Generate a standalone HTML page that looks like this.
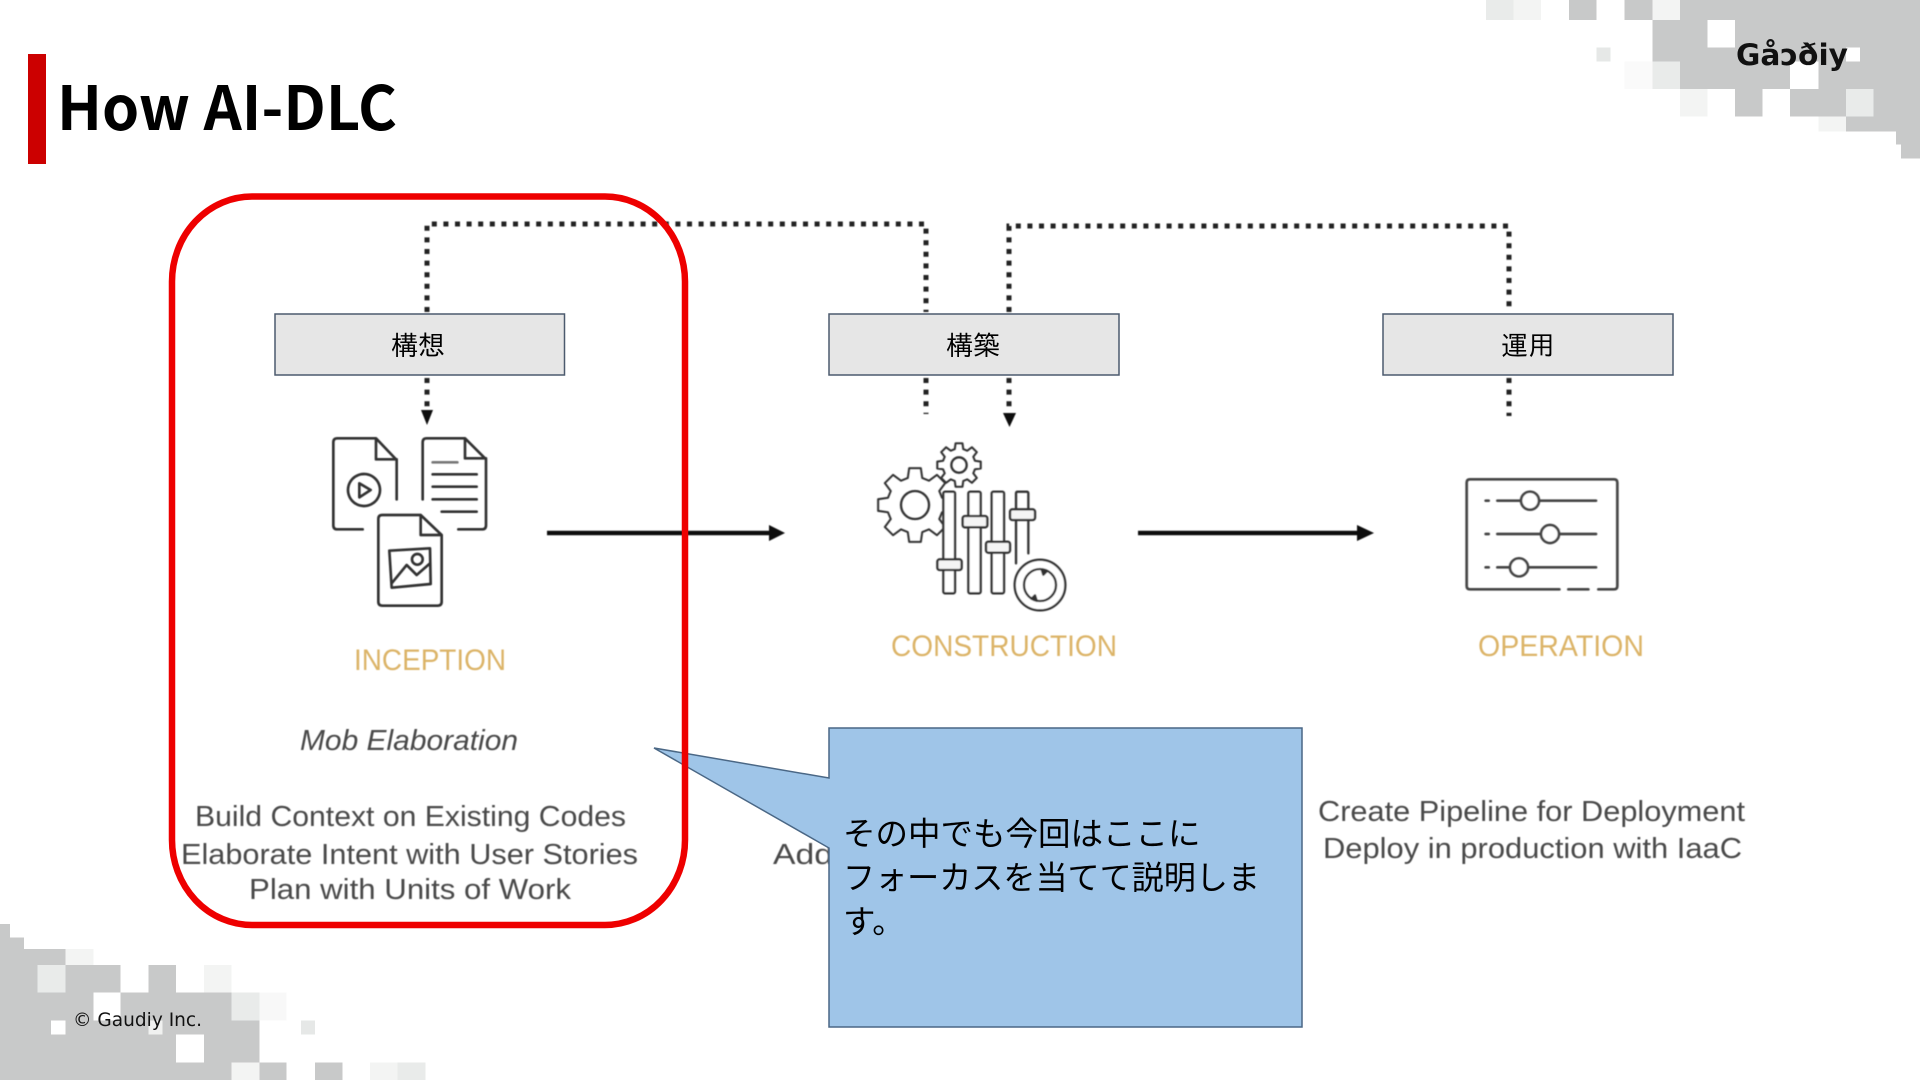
<!DOCTYPE html>
<html lang="ja"><head><meta charset="utf-8"><title>How AI-DLC</title>
<style>html,body{margin:0;padding:0;background:#fff;width:1920px;height:1080px;overflow:hidden}svg{display:block}
.b{font-family:"Liberation Sans","Noto Sans CJK JP",sans-serif;font-size:29px;fill:#4a4a4a}
.o{font-family:"Liberation Sans",sans-serif;font-size:30px;fill:#dcb468}
.j{font-family:"IPAGothic","Noto Sans CJK JP",sans-serif;fill:#000}
.k{font-family:"Noto Sans CJK JP",sans-serif;fill:#000}
.i{fill:none;stroke:#333;stroke-width:8;stroke-linecap:round;stroke-linejoin:round}
.d{fill:none;stroke:#222;stroke-width:5;stroke-dasharray:5 6.6}
</style></head><body>
<svg xmlns="http://www.w3.org/2000/svg" width="1920" height="1080" viewBox="0 0 1920 1080">
<defs><filter id="s" x="-5%" y="-5%" width="110%" height="110%"><feGaussianBlur stdDeviation="0.55"/></filter></defs>
<rect width="1920" height="1080" fill="#fff"/>

<!-- top right pixels -->
<g transform="translate(1480,0) scale(.33333)" shape-rendering="crispEdges" fill="#c8c9c9">
<rect x="18" y="0" width="82" height="60" fill="#e9ebea"/><rect x="100" y="0" width="83" height="60" fill="#f3f4f3"/>
<rect x="267" y="0" width="83" height="60"/><rect x="433" y="0" width="84" height="60"/>
<rect x="517" y="0" width="83" height="60" fill="#f3f4f3"/><rect x="600" y="0" width="720" height="60"/>
<rect x="517" y="60" width="803" height="125"/>
<rect x="683" y="60" width="82" height="83" fill="#fff"/><rect x="1098" y="143" width="42" height="42" fill="#fff"/>
<rect x="350" y="143" width="42" height="42" fill="#e6e8e7"/>
<rect x="433" y="185" width="84" height="82" fill="#fafafa"/><rect x="517" y="185" width="83" height="82" fill="#e9ebea"/>
<rect x="600" y="185" width="330" height="82"/><rect x="1015" y="185" width="305" height="82"/>
<rect x="600" y="267" width="83" height="83" fill="#f3f4f3"/><rect x="765" y="267" width="83" height="83"/>
<rect x="930" y="267" width="168" height="83"/><rect x="1098" y="267" width="82" height="83" fill="#e9ebea"/><rect x="1180" y="267" width="140" height="83"/>
<rect x="1015" y="350" width="83" height="45" fill="#f3f4f3"/><rect x="1098" y="350" width="222" height="45"/>
<rect x="1248" y="395" width="72" height="38"/><rect x="1263" y="433" width="57" height="42"/>
</g>
<!-- bottom left pixels -->
<g transform="translate(0,910) scale(.33333)" shape-rendering="crispEdges" fill="#c8c9c9">
<rect x="0" y="42" width="30" height="41"/><rect x="0" y="83" width="72" height="34"/>
<rect x="0" y="117" width="197" height="48"/><rect x="197" y="117" width="83" height="48" fill="#f3f4f3"/>
<rect x="0" y="165" width="113" height="83"/><rect x="113" y="165" width="84" height="83" fill="#e9ebea"/><rect x="197" y="165" width="165" height="83"/>
<rect x="445" y="165" width="83" height="83"/><rect x="612" y="165" width="83" height="83" fill="#f3f4f3"/>
<rect x="0" y="248" width="280" height="84"/><rect x="362" y="248" width="333" height="84"/>
<rect x="695" y="248" width="83" height="84" fill="#e9ebea"/><rect x="778" y="248" width="82" height="84" fill="#f8f8f8"/>
<rect x="0" y="332" width="153" height="41"/><rect x="197" y="332" width="248" height="41"/><rect x="445" y="332" width="42" height="41" fill="#f0f1f0"/><rect x="487" y="332" width="291" height="41"/>
<rect x="903" y="332" width="42" height="41" fill="#e6e8e7"/>
<rect x="0" y="373" width="528" height="84"/><rect x="612" y="373" width="166" height="84"/>
<rect x="0" y="457" width="695" height="53"/><rect x="695" y="457" width="83" height="53" fill="#f3f4f3"/><rect x="778" y="457" width="82" height="53"/>
<rect x="945" y="457" width="83" height="53"/><rect x="1110" y="457" width="83" height="53" fill="#f3f4f3"/><rect x="1193" y="457" width="84" height="53" fill="#e9ebea"/>
</g>

<!-- logo and footer -->
<text x="1736" y="65" font-family="'DejaVu Sans',sans-serif" font-weight="700" font-size="29" fill="#111" textLength="112" lengthAdjust="spacingAndGlyphs">Gåɔðiy</text>
<text x="73" y="1026" font-family="'DejaVu Sans',sans-serif" font-size="19" fill="#111" textLength="129" lengthAdjust="spacingAndGlyphs">© Gaudiy Inc.</text>

<!-- title -->
<rect x="28" y="54" width="18" height="110" fill="#cc0000"/>
<text x="57" y="130" font-family="'Noto Sans CJK JP','Liberation Sans',sans-serif" font-weight="700" font-size="61" fill="#000" textLength="340" lengthAdjust="spacingAndGlyphs">How AI-DLC</text>

<!-- dotted connectors -->
<g filter="url(#s)">
<path class="d" d="M427 312V224H926V312M926 378V414M427 378V408"/>
<path class="d" d="M1009 312V226H1509V312M1509 378V416M1009 378V410"/>
<path d="M421 410H433L427 425Z" fill="#111"/><path d="M1003 413H1016L1009.500 427Z" fill="#111"/>
</g>

<!-- header boxes -->
<g fill="#e6e6e6" stroke="#4c5a6e" stroke-width="1.5">
<rect x="275" y="314" width="289.500" height="61"/><rect x="829" y="314" width="290" height="61"/><rect x="1383" y="314" width="290" height="61"/>
</g>
<g class="j" font-size="27" text-anchor="middle">
<text x="418" y="355">構想</text><text x="973" y="355">構築</text><text x="1528" y="355">運用</text>
</g>

<!-- solid arrows -->
<g filter="url(#s)">
<path d="M547 533H772" stroke="#111" stroke-width="4.500" fill="none"/><path d="M769 525L785 533L769 541Z" fill="#111"/>
<path d="M1138 533H1358" stroke="#111" stroke-width="4.500" fill="none"/><path d="M1357 525L1374 533L1357 541Z" fill="#111"/>

<!-- docs icon -->
<g transform="translate(300,420) scale(.33333)" class="i">
<path d="M290 238V120L228 55H112Q100 55 100 67V316Q100 328 112 328H188M228 55V118H290"/>
<circle cx="192" cy="210" r="48" stroke-dasharray="9 2"/><path d="M178 190L212 210L178 232Z"/>
<path d="M368 238V67Q368 55 380 55H495L558 118V316Q558 328 546 328H475M495 55V115H558"/>
<path d="M398 127H472" stroke="#777"/><path d="M398 163H530M398 200H530M398 238H530M425 275H530"/>
<path d="M247 285H362L425 345V545Q425 557 413 557H247Q235 557 235 545V297Q235 285 247 285ZM362 285V345H425"/>
<path d="M268 392L390 385L392 492L275 503ZM275 490L320 435L350 465L390 430"/><circle cx="352" cy="418" r="16"/>
</g>

<!-- construction icon -->
<g transform="translate(860,430) scale(.33333)" class="i" style="stroke-width:7">
<g transform="translate(165,225) scale(112)" style="stroke-width:.055"><path d="M.988 -.156L.988 .156L.724 .194L.650 .375L.809 .588L.588 .809L.375 .650L.194 .724L.156 .988L-.156 .988L-.194 .724L-.375 .650L-.588 .809L-.809 .588L-.650 .375L-.724 .194L-.988 .156L-.988 -.156L-.724 -.194L-.650 -.375L-.809 -.588L-.588 -.809L-.375 -.650L-.194 -.724L-.156 -.988L.156 -.988L.194 -.724L.375 -.650L.588 -.809L.809 -.588L.650 -.375L.724 -.194Z"/></g>
<circle cx="165" cy="225" r="42"/>
<g transform="translate(297,105) scale(66)" style="stroke-width:.095"><path d="M.988 -.156L.988 .156L.724 .194L.650 .375L.809 .588L.588 .809L.375 .650L.194 .724L.156 .988L-.156 .988L-.194 .724L-.375 .650L-.588 .809L-.809 .588L-.650 .375L-.724 .194L-.988 .156L-.988 -.156L-.724 -.194L-.650 -.375L-.809 -.588L-.588 -.809L-.375 -.650L-.194 -.724L-.156 -.988L.156 -.988L.194 -.724L.375 -.650L.588 -.809L.809 -.588L.650 -.375L.724 -.194Z"/></g>
<circle cx="297" cy="105" r="23"/>
<rect x="250" y="185" width="35" height="305" rx="5" fill="#fff"/><rect x="325" y="185" width="37" height="305" rx="5" fill="#fff"/><rect x="395" y="185" width="37" height="305" rx="5" fill="#fff"/>
<path d="M468 400V190Q468 185 473 185H500Q505 185 505 190V370"/>
<rect x="232" y="388" width="73" height="32" rx="7" fill="#f4f4f4"/><rect x="308" y="258" width="74" height="34" rx="7" fill="#f4f4f4"/><rect x="378" y="335" width="72" height="33" rx="7" fill="#f4f4f4"/><rect x="450" y="238" width="75" height="32" rx="7" fill="#f4f4f4"/>
<circle cx="540" cy="465" r="76" fill="#fff"/><circle cx="540" cy="465" r="48"/>
<path d="M545 418L560 424L550 434Z" fill="#222"/><path d="M530 512L515 506L525 496Z" fill="#222"/>
</g>

<!-- operation icon -->
<g transform="translate(1440,460) scale(.33333)" class="i" style="stroke:#444">
<path d="M358 388H90Q80 388 80 378V68Q80 58 90 58H522Q532 58 532 68V378Q532 388 522 388H475M385 388H445"/>
<path d="M137 122H146M172 122H468M137 222H146M172 222H468M137 322H146M172 322H468"/>
<circle cx="270" cy="122" r="27" fill="#fff"/><circle cx="330" cy="222" r="27" fill="#fff"/><circle cx="237" cy="322" r="27" fill="#fff"/>
</g>

<!-- diagram labels -->
<text class="o" x="354" y="670" textLength="152" lengthAdjust="spacingAndGlyphs">INCEPTION</text>
<text class="o" x="891" y="656" textLength="226" lengthAdjust="spacingAndGlyphs">CONSTRUCTION</text>
<text class="o" x="1478" y="656" textLength="166" lengthAdjust="spacingAndGlyphs">OPERATION</text>
<text class="b" x="300" y="750" font-style="italic" textLength="218" lengthAdjust="spacingAndGlyphs">Mob Elaboration</text>
<text class="b" x="195" y="826" textLength="431" lengthAdjust="spacingAndGlyphs">Build Context on Existing Codes</text>
<text class="b" x="181" y="864" textLength="457" lengthAdjust="spacingAndGlyphs">Elaborate Intent with User Stories</text>
<text class="b" x="249" y="899" textLength="322" lengthAdjust="spacingAndGlyphs">Plan with Units of Work</text>
<text class="b" x="773" y="864" textLength="60" lengthAdjust="spacingAndGlyphs">Add</text>
<text class="b" x="1318" y="821" textLength="427" lengthAdjust="spacingAndGlyphs">Create Pipeline for Deployment</text>
<text class="b" x="1323" y="858" textLength="419" lengthAdjust="spacingAndGlyphs">Deploy in production with IaaC</text>
</g>

<!-- callout -->
<path d="M829 728H1302V1027H829V848L654 748L829 778Z" fill="#9fc5e8" stroke="#4a6785" stroke-width="1.500" stroke-linejoin="miter"/>
<g class="k" font-size="32.500">
<text x="843" y="845">その中でも今回はここに</text>
<text x="843" y="889" textLength="417" lengthAdjust="spacingAndGlyphs">フォーカスを当てて説明しま</text>
<text x="843" y="933">す。</text>
</g>

<!-- focus ring -->
<rect x="172" y="196.500" width="513" height="728.500" rx="80" ry="85" fill="none" stroke="#ee0000" stroke-width="6.500"/>
</svg>
</body></html>
